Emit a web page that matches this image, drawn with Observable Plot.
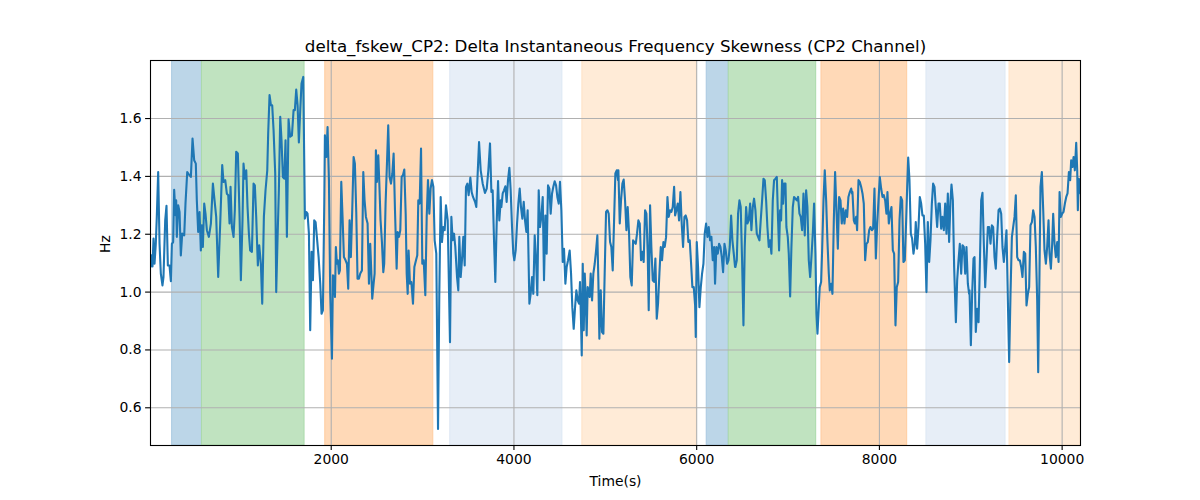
<!DOCTYPE html>
<html><head><meta charset="utf-8">
<script src="https://cdn.jsdelivr.net/npm/d3@7"></script>
<script src="https://cdn.jsdelivr.net/npm/@observablehq/plot@0.6"></script>
<style>body{margin:0;background:#fff;} #chart svg{font-family:"DejaVu Sans",sans-serif;}</style>
</head><body><div id="chart"></div>
<script>
const titleText = "delta_fskew_CP2: Delta Instantaneous Frequency Skewness (CP2 Channel)";
const xLabel = "Time(s)";
const yLabel = "Hz";
const xTicks = [2000, 4000, 6000, 8000, 10000];
const yTicks = [0.6, 0.8, 1.0, 1.2, 1.4, 1.6];
const xDomain = [22, 10201];
const yDomain = [0.4696, 1.8007];

const spanStart = [259, 585, 1935, 3303, 4749, 6110, 6351, 7366, 8515, 9424];
const spanEnd   = [585, 1708, 3117, 4530, 6000, 6351, 7308, 8304, 9380, 10201];
const spanKind  = ["A", "B", "C", "D", "E", "A", "B", "C", "D", "E"];

const timeS = [
22,33,44,55,66,80,91,106,121,135,153,164,183,197,212,230,245,256,270,281,296,303,310,325,340,354,369,391,405,424,442,464,482,500,518,529,544,559,573,584,595,610,624,639,661,683,705,723,741,763,785,807,821,840,858,873,887,898,913,931,945,960,978,997,1011,1029,1040,1055,1070,1084,1099,1113,1132,1150,1164,1179,1197,1212,1230,1245,1263,1281,1300,1310,1325,1340,1354,1369,1387,1398,1413,1427,1442,1456,1471,1486,1500,1515,1533,1551,1570,1588,1602,1617,1632,1646,1661,1675,1694,1712,1727,1741,1756,1770,1785,1800,1814,1829,1843,1862,1880,1894,1909,1924,1931,1946,1960,1975,1989,2008,2019,2030,2041,2051,2062,2073,2084,2095,2110,2124,2139,2157,2172,2186,2201,2215,2230,2245,2259,2274,2288,2303,2318,2336,2351,2365,2380,2398,2413,2427,2438,2449,2464,2475,2489,2500,2515,2526,2540,2555,2570,2580,2595,2610,2624,2639,
2654,2669,2683,2698,2716,2727,2742,2756,2771,2785,2800,2815,2826,2837,2847,2862,2877,2895,2910,2928,2942,2953,2968,2983,2997,3012,3030,3045,3059,3074,3088,3103,3118,3132,3150,3169,3183,3198,3212,3227,3242,3256,3275,3300,3315,3329,3344,3358,3377,3391,3402,3417,3431,3446,3461,3475,3490,3504,3523,3537,3552,3574,3588,3603,3618,3636,3658,3683,3702,3720,3738,3753,3767,3782,3796,3811,3826,3840,3855,
3862,3877,3891,3906,3920,3935,3950,3964,3979,3993,4004,4019,4034,4048,4063,4077,4092,4107,4121,4136,4150,4169,4183,4198,4212,4227,4242,4256,4271,4285,4300,4315,4329,4344,4358,4373,4388,4402,4417,4431,4446,4461,4475,4490,4504,4519,4534,4548,4563,4577,4592,4610,4625,4639,4654,4669,4683,4698,4712,4723,4734,4742,4753,4764,4775,4785,4796,4807,4818,4829,4840,4855,4869,4884,4899,4913,4924,4935,4950,4964,4979,4993,5008,5023,5037,5052,5066,5081,5096,5110,5125,5139,
5143,5158,5172,5187,5201,5216,5231,5245,5260,5274,5289,5304,5318,5333,5347,5362,5377,5391,5406,5420,5435,5450,5464,5475,5490,5504,5519,5534,5548,5563,5577,5592,5607,5621,5636,5650,5665,5680,5694,5709,5723,5738,5753,5764,5778,5793,5807,5822,5836,5851,5866,5880,5895,5909,5924,5939,5953,5968,5983,5990,6001,6015,6030,6045,6059,6074,6088,6103,6118,6132,6147,6161,6176,6191,6201,6216,6231,6245,6260,6275,6289,6304,6318,6333,6348,6362,6377,6391,6406,6420,
6424,6439,6453,6468,6482,6497,6512,6526,6541,6555,6570,6585,6599,6614,6628,6643,6658,6672,6687,6701,6716,6731,6745,6760,6774,6789,6804,6818,6833,6847,6862,6877,6891,6902,6913,6924,6935,6946,6957,6972,6982,6997,7008,7023,7037,7052,7066,7081,7096,7110,7125,7139,7154,7169,7183,7198,7212,7227,7242,7256,7271,7285,7300,7311,7322,7333,7347,7362,7373,7388,7402,7417,7431,7446,7457,7472,7486,7501,7515,7530,7545,7559,7574,7588,7603,7617,7632,7647,7661,7676,7691,7701,
7705,7720,7731,7745,7756,7771,7785,7800,7815,7829,7844,7858,7873,7888,7902,7917,7931,7946,7961,7975,7990,8004,8019,8034,8048,8063,8077,8088,8103,8117,8132,8147,8161,8176,8190,8205,8220,8234,8249,8263,8278,8293,8304,8315,8329,8344,8358,8373,8388,8398,8413,8428,8442,8457,8471,8486,8501,8515,8530,8545,8559,8574,8588,8603,8617,8632,8647,8661,8676,8690,8705,8720,8734,8749,8763,8778,8789,8804,8818,8837,8851,8866,8880,8895,8909,8924,8939,8953,8968,8982,
8986,9001,9015,9030,9041,9055,9070,9085,9099,9114,9128,9143,9158,9172,9187,9201,9216,9231,9245,9260,9274,9289,9304,9318,9333,9347,9362,9377,9391,9406,9420,9435,9450,9464,9479,9493,9508,9523,9537,9552,9566,9581,9596,9610,9625,9639,9654,9669,9683,9698,9712,9727,9738,9752,9763,9778,9793,9807,9822,9836,9851,9862,9877,9891,9902,9917,9931,9946,9961,9972,9986,10001,10015,10030,10045,10059,10074,10088,10099,10114,10125,10139,10154,10165,10172,10183,10194,10201
];

const hz = [
1.087,1.127,1.089,1.185,1.098,1.167,1.260,1.415,1.167,1.064,1.023,1.052,1.248,1.298,1.092,1.092,1.038,1.167,1.173,1.354,1.266,1.317,1.191,1.300,1.277,1.127,1.202,1.196,1.306,1.415,1.407,1.398,1.531,1.456,1.444,1.317,1.208,1.277,1.144,1.231,1.156,1.306,1.271,1.214,1.191,1.237,1.375,1.317,1.260,1.052,1.237,1.439,1.381,1.387,1.340,1.335,1.237,1.364,1.225,1.191,1.283,1.485,1.479,1.260,1.041,1.248,1.444,1.392,1.421,1.294,1.202,1.144,1.139,1.375,1.369,1.260,1.092,1.162,1.098,0.960,1.260,1.352,1.421,1.548,1.681,1.646,1.646,1.560,1.410,1.000,1.191,1.352,1.606,1.525,1.398,1.392,1.525,1.191,1.597,1.537,1.542,1.629,1.629,1.700,1.646,1.517,1.629,1.721,1.744,1.254,1.277,1.271,1.202,0.868,1.139,1.041,1.248,1.242,1.191,1.121,1.029,0.925,0.937,1.306,1.542,1.467,1.571,1.387,0.994,0.770,1.058,1.052,0.983,1.156,1.098,1.110,1.064,1.075,1.381,1.260,1.121,1.110,1.098,1.012,1.248,1.121,1.283,1.467,1.444,1.277,1.046,1.046,1.064,1.075,1.415,1.317,1.260,1.237,1.029,1.167,1.075,0.977,1.029,1.064,1.490,1.381,1.473,1.381,1.248,1.173,1.069,1.098,1.306,1.444,1.577,1.398,
1.375,1.410,1.479,1.283,1.081,1.208,1.191,1.214,1.398,1.404,1.424,1.271,1.064,0.994,1.144,1.029,1.035,0.960,1.087,1.110,1.127,1.317,1.306,1.496,1.098,1.110,0.989,1.260,1.387,1.271,1.358,1.387,1.364,1.179,1.133,0.527,0.994,1.329,1.173,1.225,1.214,1.300,1.248,0.827,1.260,1.179,1.202,1.156,1.052,1.006,1.191,1.052,1.110,1.191,1.092,1.364,1.375,1.335,1.396,1.346,1.329,1.312,1.294,1.410,1.519,1.421,1.375,1.343,1.358,1.421,1.514,1.346,1.352,1.179,1.035,1.237,1.384,1.248,1.317,
1.294,1.341,1.352,1.366,1.312,1.387,1.430,1.352,1.225,1.133,1.110,1.144,1.237,1.306,1.358,1.294,1.254,1.312,1.248,1.208,1.283,0.960,0.994,1.052,0.994,1.196,1.110,0.989,1.352,1.225,1.260,1.329,1.041,1.265,1.133,1.369,1.358,1.271,1.341,1.364,1.383,1.369,1.329,1.306,1.381,1.283,1.104,1.150,1.029,1.087,1.110,1.144,1.064,0.948,0.873,0.948,1.006,0.971,0.960,1.035,0.902,0.781,1.098,0.868,1.064,0.983,0.850,1.017,1.006,0.983,1.064,0.971,1.064,1.098,1.144,1.196,1.040,0.839,1.006,0.862,0.856,1.064,1.277,1.283,1.271,1.173,1.156,1.075,1.248,1.410,1.421,1.387,
1.421,1.237,1.317,1.375,1.389,1.317,1.214,1.294,1.202,1.052,1.023,1.179,1.173,1.167,1.202,1.248,1.237,1.110,1.139,1.104,1.283,1.271,1.133,0.937,1.300,1.156,1.041,1.035,1.116,0.908,0.960,1.064,1.156,1.110,1.173,1.156,1.190,1.329,1.260,1.283,1.277,1.294,1.364,1.265,1.283,1.306,1.248,1.346,1.237,1.156,1.260,1.265,1.248,1.173,1.179,1.098,1.017,1.017,0.954,0.845,1.173,1.087,0.948,1.017,1.064,1.098,1.202,1.237,1.191,1.225,1.179,1.191,1.110,1.156,1.029,1.156,1.133,1.167,1.156,1.121,1.069,1.167,1.144,1.098,1.110,1.156,1.265,1.179,1.133,1.087,
1.087,1.110,1.271,1.317,1.294,1.110,0.885,1.156,1.294,1.237,1.248,1.306,1.214,1.294,1.323,1.283,1.202,1.191,1.179,1.248,1.317,1.392,1.387,1.317,1.225,1.156,1.179,1.133,1.317,1.387,1.392,1.398,1.248,1.144,1.283,1.248,1.387,1.306,1.375,1.375,1.225,1.191,1.133,0.985,1.156,1.294,1.329,1.323,1.317,1.329,1.271,1.260,1.214,1.341,1.196,1.352,1.294,1.110,1.052,1.121,1.202,1.306,1.133,0.925,0.856,0.925,1.017,1.035,1.144,1.317,1.421,1.317,1.179,1.064,1.006,1.029,0.994,1.248,1.415,1.283,1.150,1.329,1.317,1.237,1.289,1.237,1.283,1.260,1.329,1.346,1.358,1.341,
1.346,1.248,1.237,1.260,1.214,1.387,1.381,1.364,1.341,1.306,1.110,1.167,1.173,1.214,1.225,1.214,1.219,1.358,1.116,1.231,1.317,1.398,1.358,1.329,1.335,1.317,1.271,1.346,1.237,1.271,1.294,1.144,1.133,0.885,1.017,1.035,1.248,1.329,1.317,1.104,1.110,1.248,1.364,1.465,1.387,1.202,1.185,1.133,1.167,1.242,1.150,1.225,1.329,1.306,1.265,1.265,1.167,1.000,1.242,1.104,1.179,1.306,1.375,1.364,1.294,1.225,1.306,1.306,1.219,1.260,1.214,1.306,1.202,1.341,1.173,1.317,1.372,1.317,1.087,0.896,1.041,1.110,1.167,1.064,1.162,1.156,1.064,1.156,1.029,0.994,
1.006,0.816,0.994,1.116,1.121,0.862,0.942,0.896,1.087,1.317,1.343,1.167,1.017,1.110,1.225,1.225,1.167,1.231,1.225,1.121,1.081,1.191,1.283,1.289,1.271,1.156,1.104,1.156,1.214,0.971,0.758,0.994,1.190,1.225,1.260,1.335,1.121,1.110,1.110,1.087,1.052,1.139,1.133,0.954,0.994,1.017,1.231,1.242,1.283,1.260,1.156,0.971,0.723,1.064,1.364,1.415,1.283,1.144,1.098,1.156,1.248,1.133,1.081,1.167,1.271,1.167,1.121,1.173,1.104,1.346,1.260,1.271,1.277,1.306,1.329,1.341,1.415,1.387,1.456,1.433,1.467,1.421,1.516,1.421,1.283,1.392,1.375,1.341
];

const series = timeS.map((t, i) => ({t, v: hz[i]}));
const spans = spanStart.map((s, i) => ({x1: s, x2: spanEnd[i], kind: spanKind[i]}));

const spanFill = {A: "#bcd6e8", B: "#c0e3c0", C: "#ffd9b7", D: "#e7eef7", E: "#ffebd7"};
const spanEdge = {A: "#a9c9e1", B: "#aad9aa", C: "#ffcc9f", D: "#dde7f3", E: "#ffe2c6"};

const chart = Plot.plot({
  width: 1200,
  height: 500,
  marginLeft: 150,
  marginRight: 120,
  marginTop: 60,
  marginBottom: 55,
  style: {fontFamily: "DejaVu Sans, sans-serif", fontSize: "13.9px", background: "#fff", color: "#000"},
  x: {domain: xDomain, ticks: xTicks, label: null},
  y: {domain: yDomain, ticks: yTicks, label: null},
  marks: [
    Plot.rect(spans, {x1: "x1", x2: "x2", fill: d => spanFill[d.kind], stroke: d => spanEdge[d.kind], strokeWidth: 1, clip: true}),
    Plot.gridX(xTicks, {stroke: "#b0b0b0", strokeOpacity: 1, strokeWidth: 1.1}),
    Plot.gridY(yTicks, {stroke: "#b0b0b0", strokeOpacity: 1, strokeWidth: 1.1}),
    Plot.line(series, {x: "t", y: "v", stroke: "#1f77b4", strokeWidth: 2.1, clip: true}),
    Plot.frame({stroke: "#000", strokeWidth: 1.1}),
    Plot.axisX(xTicks, {tickSize: 4.9, tickPadding: 4, tickFormat: d3.format("d"), fontSize: 13.9, strokeWidth: 1.1}),
    Plot.axisY(yTicks, {tickSize: 4.9, tickPadding: 4, tickFormat: d3.format(".1f"), fontSize: 13.9, strokeWidth: 1.1}),
    Plot.text([xLabel], {text: d => d, frameAnchor: "bottom", lineAnchor: "middle", dy: 36, fontSize: 13.9}),
    Plot.text([yLabel], {text: d => d, frameAnchor: "left", lineAnchor: "middle", dx: -45, rotate: -90, fontSize: 13.9}),
    Plot.text([titleText], {text: d => d, frameAnchor: "top", lineAnchor: "middle", dy: -14, fontSize: 16.7})
  ]
});
document.getElementById("chart").appendChild(chart);
</script>
</body></html>
